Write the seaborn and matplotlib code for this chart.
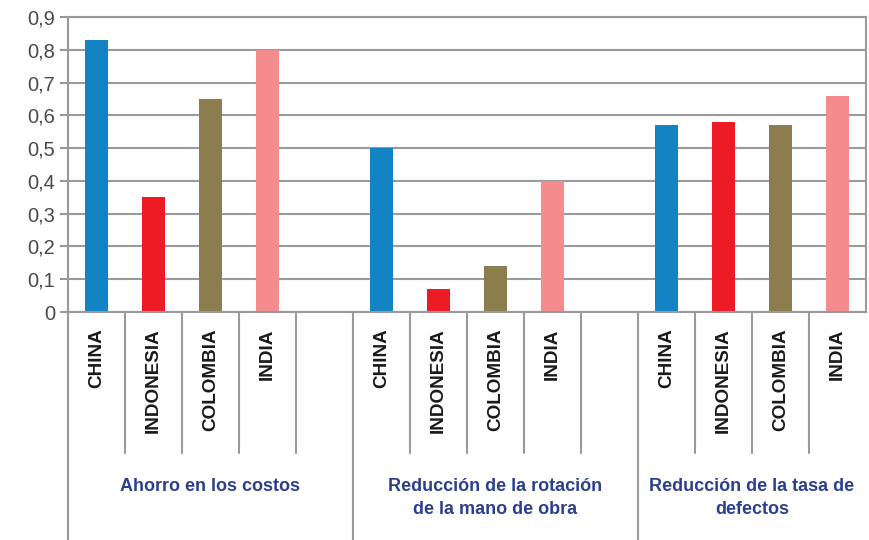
import pandas as pd
import seaborn as sns
import matplotlib.pyplot as plt

# datos
grupos = ['Ahorro en los costos',
          'Reducción de la rotación\nde la mano de obra',
          'Reducción de la tasa de\ndefectos']
paises = ['CHINA', 'INDONESIA', 'COLOMBIA', 'INDIA']
ahorro = [0.83, 0.35, 0.65, 0.80]
rotacion = [0.50, 0.07, 0.14, 0.40]
defectos = [0.57, 0.58, 0.57, 0.66]
yticks = [0, 0.1, 0.2, 0.3, 0.4, 0.5, 0.6, 0.7, 0.8, 0.9]
ytick_labels = ['0', '0,1', '0,2', '0,3', '0,4', '0,5', '0,6', '0,7', '0,8', '0,9']

colores = {'CHINA': '#1383C4', 'INDONESIA': '#ED1C24',
           'COLOMBIA': '#8B7D4D', 'INDIA': '#F48C8E'}
gris = '#9A9A9E'

# tabla larga + orden de las posiciones (con hueco entre grupos)
filas = []
orden = []
for g, (grupo, valores) in enumerate(zip(grupos, [ahorro, rotacion, defectos])):
    for pais, v in zip(paises, valores):
        filas.append({'slot': f'{g}-{pais}', 'pais': pais, 'valor': v})
        orden.append(f'{g}-{pais}')
    if g < len(grupos) - 1:
        orden.append(f'{g}-hueco')
df = pd.DataFrame(filas)

sns.set_style('white')
plt.rcParams['font.family'] = ['Liberation Sans', 'DejaVu Sans']

fig = plt.figure(figsize=(8.69, 5.40), dpi=100)
ax = fig.add_axes([68 / 869, 228 / 540, 798 / 869, 295 / 540])
ax.set_axisbelow(True)
ax.yaxis.grid(True, color=gris, linewidth=1.5)

sns.barplot(data=df, x='slot', y='valor', hue='pais', order=orden,
            palette=colores, dodge=False, width=0.39, legend=False,
            saturation=1, linewidth=0, ax=ax)

ax.set_xlim(-0.5, len(orden) - 0.5)
ax.set_ylim(0, 0.9)
ax.set_yticks(yticks)
ax.set_yticklabels(ytick_labels, fontsize=14.5, color='#4a4a4a')
ax.tick_params(axis='y', length=6, width=1.5, color=gris, pad=3, left=True)
ax.set_xticks([])
ax.set_xlabel('')
ax.set_ylabel('')
for s in ax.spines.values():
    s.set_color(gris)
    s.set_linewidth(1.5)

# etiquetas de categoría multinivel bajo el eje
tr = ax.get_xaxis_transform()
for i, slot in enumerate(orden):
    pais = slot.split('-', 1)[1]
    if pais != 'hueco':
        ax.text(i, -0.055, pais, rotation=90, ha='center', va='top',
                fontsize=13.6, fontweight='bold', color='#1a1a1a', transform=tr)

inicio = 0
for g, grupo in enumerate(grupos):
    n = len(paises) + (1 if g < len(grupos) - 1 else 0)
    fin = inicio + n
    # separadores cortos entre países
    for k in range(inicio, fin - 1):
        ax.plot([k + 0.5, k + 0.5], [0, -0.478], color=gris, lw=1.5,
                transform=tr, clip_on=False)
    # separadores largos entre grupos
    if g < len(grupos) - 1:
        ax.plot([fin - 0.5, fin - 0.5], [0, -0.775], color=gris, lw=1.5,
                transform=tr, clip_on=False)
    ax.text((inicio + inicio + len(paises) - 1) / 2 + (0.5 if n > len(paises) else 0),
            -0.562, grupo, ha='center', va='top', fontsize=13,
            fontweight='bold', color='#2B3F8F', linespacing=1.45, transform=tr)
    inicio = fin

ax.plot([-0.5, -0.5], [0, -0.775], color=gris, lw=1.5, transform=tr,
        clip_on=False)

fig.savefig('out.png', dpi=100)
